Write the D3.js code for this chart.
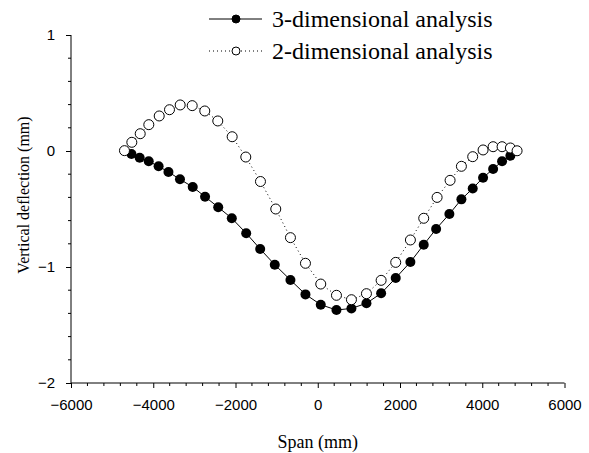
<!DOCTYPE html>
<html>
<head>
<meta charset="utf-8">
<script src="https://cdn.jsdelivr.net/npm/d3@7"></script>
<style>
  body { margin: 0; background: #fff; }
  svg { display: block; }
  .serif { font-family: "Liberation Serif", "Times New Roman", Times, "DejaVu Serif", serif; }
  .sans { font-family: "Liberation Sans", Arial, Helvetica, sans-serif; }
</style>
</head>
<body>
<svg id="chart" width="589" height="453"></svg>
<script>
// span (mm) and vertical deflection (mm)
const span3d = [-4530, -4330, -4110, -3870, -3630, -3350, -3040, -2740, -2420, -2090, -1740, -1400, -1045, -664, -299, 73, 455, 819, 1184, 1541, 1896, 2253, 2577, 2878, 3201, 3493, 3768, 4020, 4264, 4482, 4684];
const defl3d = [-0.026, -0.058, -0.089, -0.132, -0.181, -0.244, -0.31, -0.394, -0.485, -0.58, -0.709, -0.845, -0.98, -1.112, -1.236, -1.325, -1.371, -1.357, -1.313, -1.227, -1.095, -0.957, -0.808, -0.672, -0.543, -0.417, -0.323, -0.23, -0.155, -0.089, -0.041];

const span2d = [-4700, -4521, -4317, -4108, -3855, -3605, -3345, -3053, -2747, -2431, -2081, -1750, -1393, -1021, -664, -299, 73, 455, 819, 1184, 1541, 1896, 2253, 2577, 2902, 3218, 3493, 3768, 4020, 4264, 4482, 4684, 4847];
const defl2d = [0.003, 0.075, 0.149, 0.227, 0.302, 0.356, 0.397, 0.391, 0.345, 0.259, 0.123, -0.052, -0.263, -0.5, -0.747, -0.968, -1.147, -1.244, -1.282, -1.23, -1.115, -0.96, -0.767, -0.58, -0.4, -0.253, -0.132, -0.049, 0.009, 0.037, 0.037, 0.026, 0.002];

const xTicks = [-6000, -4000, -2000, 0, 2000, 4000, 6000];
const yTicks = [-2, -1, 0, 1];
const seriesNames = ["3-dimensional analysis", "2-dimensional analysis"];

const svg = d3.select("#chart");

const x = d3.scaleLinear().domain([-6000, 6000]).range([71, 564.5]);
const y = d3.scaleLinear().domain([-2, 1]).range([383, 35]);

// minor ticks
const xMinor = d3.range(-6000, 6001, 400).filter(v => !xTicks.includes(v));
const yMinor = d3.range(-2, 1.001, 0.2).map(v => +v.toFixed(2)).filter(v => !yTicks.includes(v));

const xAxis = svg.append("g")
  .attr("transform", `translate(0,${y(-2)})`)
  .call(d3.axisBottom(x).tickValues(xTicks).tickSize(5).tickPadding(11).tickFormat(d3.format("d")));
xAxis.append("g").selectAll("line")
  .data(xMinor).enter().append("line")
  .attr("x1", d => x(d)).attr("x2", d => x(d))
  .attr("y1", 0).attr("y2", 3)
  .attr("stroke", "#000");

const yAxis = svg.append("g")
  .attr("transform", `translate(${x(-6000)},0)`)
  .call(d3.axisLeft(y).tickValues(yTicks).tickSize(5).tickPadding(11).tickFormat(d3.format("d")));
yAxis.append("g").selectAll("line")
  .data(yMinor).enter().append("line")
  .attr("y1", d => y(d)).attr("y2", d => y(d))
  .attr("x1", 0).attr("x2", -3)
  .attr("stroke", "#000");

svg.selectAll(".domain").attr("d", null);
xAxis.append("line").attr("x1", x(-6000)).attr("x2", x(6000)).attr("stroke", "#000");
yAxis.append("line").attr("y1", y(-2)).attr("y2", y(1)).attr("stroke", "#000");

xAxis.attr("font-family", null).attr("class", "sans").attr("font-size", 15);
yAxis.attr("font-family", null).attr("class", "sans").attr("font-size", 15);
svg.selectAll(".tick text").attr("fill", "#000");

svg.append("text")
  .attr("class", "serif")
  .attr("x", (x(-6000) + x(6000)) / 2)
  .attr("y", 448)
  .attr("text-anchor", "middle")
  .attr("font-size", 18)
  .text("Span (mm)");

svg.append("text")
  .attr("class", "serif")
  .attr("transform", `translate(29,195) rotate(-90)`)
  .attr("text-anchor", "middle")
  .attr("font-size", 16)
  .text("Vertical deflection (mm)");

const data3d = span3d.map((s, i) => ({ s, d: defl3d[i] }));
const data2d = span2d.map((s, i) => ({ s, d: defl2d[i] }));

const line = d3.line().x(p => x(p.s)).y(p => y(p.d));

svg.append("path")
  .datum(data2d)
  .attr("d", line)
  .attr("fill", "none")
  .attr("stroke", "#000")
  .attr("stroke-width", 1)
  .attr("stroke-dasharray", "1,3");

svg.append("path")
  .datum(data3d)
  .attr("d", line)
  .attr("fill", "none")
  .attr("stroke", "#000")
  .attr("stroke-width", 1);

svg.append("g").selectAll("circle")
  .data(data3d).enter().append("circle")
  .attr("cx", p => x(p.s)).attr("cy", p => y(p.d))
  .attr("r", 5)
  .attr("fill", "#000");

svg.append("g").selectAll("circle")
  .data(data2d).enter().append("circle")
  .attr("cx", p => x(p.s)).attr("cy", p => y(p.d))
  .attr("r", 5)
  .attr("fill", "#fff")
  .attr("stroke", "#000")
  .attr("stroke-width", 1);

// legend
const legend = svg.append("g");
seriesNames.forEach((name, i) => {
  const ly = 19 + i * 32;
  const item = legend.append("g").attr("transform", `translate(0,${ly})`);
  item.append("line")
    .attr("x1", 209).attr("x2", 262)
    .attr("stroke", "#000")
    .attr("stroke-dasharray", i === 0 ? null : "1,3");
  item.append("circle")
    .attr("cx", 236).attr("cy", 0).attr("r", 4)
    .attr("fill", i === 0 ? "#000" : "#fff")
    .attr("stroke", "#000");
  item.append("text")
    .attr("class", "serif")
    .attr("x", 272).attr("y", 8)
    .attr("font-size", 24)
    .text(name);
});
</script>
</body>
</html>
